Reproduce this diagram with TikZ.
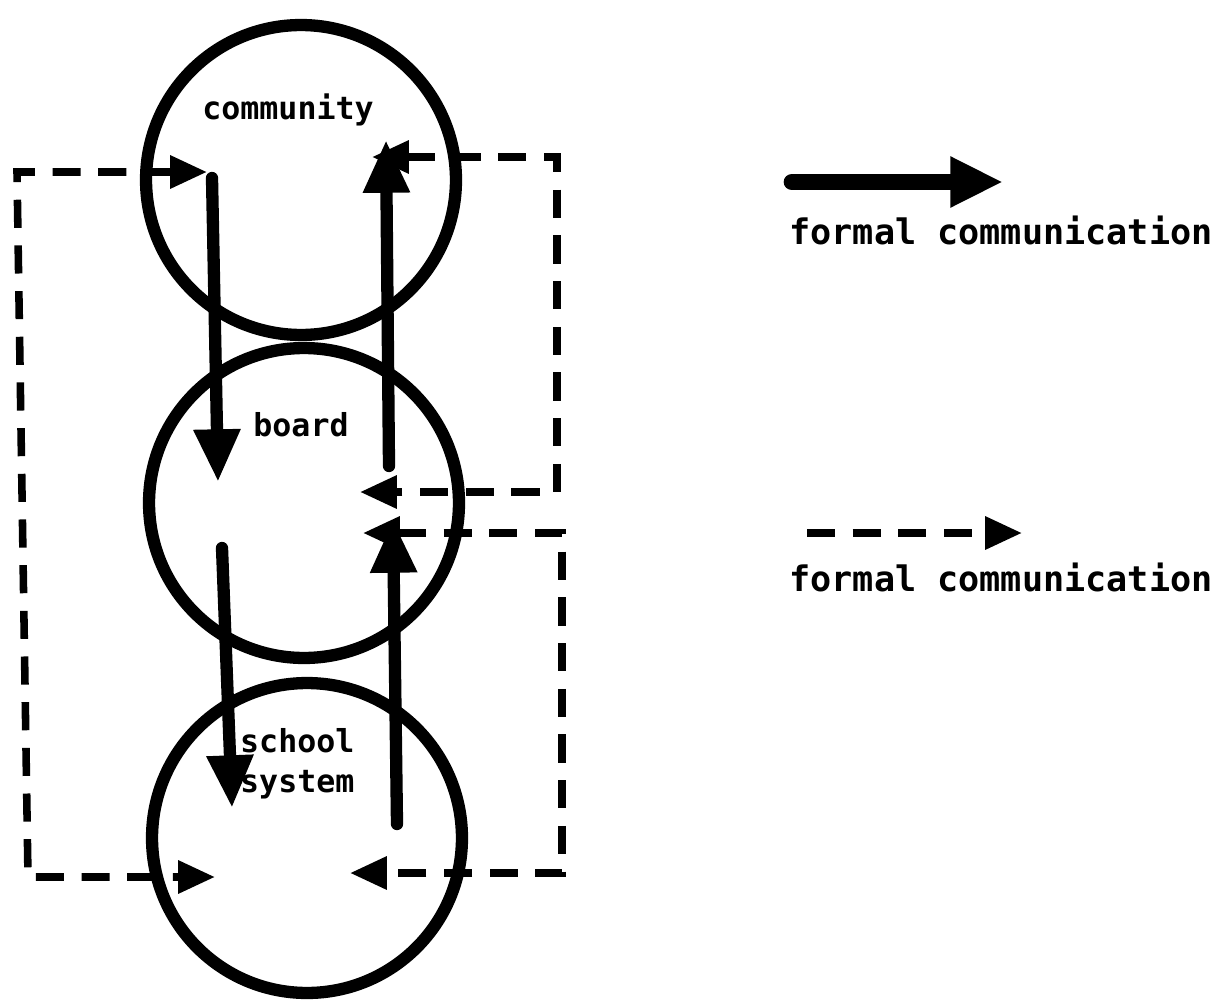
\documentclass[tikz,border=0pt]{standalone}
\usepackage{fontspec}
\setmonofont{DejaVu Sans Mono}
\usetikzlibrary{arrows.meta, positioning}
\tikzset{
x=0.02cm, y=-0.02cm, % one unit is one pixel of the scan, y runs down
sphere/.style={circle, draw, line width=7pt, minimum size=6.2cm, inner sep=0pt}, % the three groups
formal/.style={line width=7pt, line cap=round, -{Triangle[length=30pt, width=25pt]}}, % solid arrows
dtip/.tip={Triangle[length=21pt, width=18pt]}, % head of a dashed arrow
informal/.style={line width=4.3pt, dash pattern=on 16pt off 10pt, dtip-dtip}, % dashed loops
tag/.style={font=\fontsize{18}{23}\selectfont\ttfamily\bfseries}, % texts in the circles
legend/.style={font=\fontsize{20}{24}\selectfont\ttfamily\bfseries}, % texts of the legend
}
\begin{document}
\begin{tikzpicture}
        \useasboundingbox (0,0) rectangle (1217,1004);

        \node[sphere] (comm) at (301,180) {};
        \node[sphere] (board) at (304,503) {};
        \node[sphere] (school) at (307,838) {};

        \node[tag] (commtxt) at (288,110) {community};
        \node[tag] (boardtxt) at (301,425) {board};
        \node[tag, align=left, anchor=west] (schooltxt) at (234,764) {school\\system};

        % ends of the solid arrows
        \coordinate (c1) at (212,178);
        \coordinate (b1) at (218,482);
        \coordinate (b2) at (389,466);
        \coordinate (c2) at (386,140);
        \coordinate (b3) at (222,548);
        \coordinate (s1) at (232,808);
        \coordinate (s2) at (397,824);
        \coordinate (b4) at (393,520);

        \draw[formal] (c1) -- (b1);
        \draw[formal] (b2) -- (c2);
        \draw[formal] (b3) -- (s1);
        \draw[formal] (s2) -- (b4);

        % dashed loops
        \coordinate (c3) at (207,172);
        \coordinate (l1) at (17,172);
        \coordinate (l2) at (28,877);
        \coordinate (s3) at (215,877);
        \draw[informal] (c3) -- (l1) -- (l2) -- (s3);

        \coordinate (c4) at (372,157);
        \coordinate (r1) at (557,157);
        \coordinate (r2) at (557,492);
        \coordinate (b5) at (360,492);
        \draw[informal] (c4) -- (r1) -- (r2) -- (b5);

        \coordinate (b6) at (363,533);
        \coordinate (r3) at (562,533);
        \coordinate (r4) at (562,873);
        \coordinate (s4) at (350,873);
        \draw[informal] (b6) -- (r3) -- (r4) -- (s4);

        % legend
        \coordinate (ls) at (792,182);
        \coordinate (le) at (1003,182);
        \draw[formal, line width=9.5pt, -{Triangle[length=30pt, width=27pt]}] (ls) -- (le);
        \node[legend] (formaltxt) at (1001,230) {formal communication};

        \coordinate (ds) at (807,533);
        \coordinate (de) at (1022,533);
        \draw[informal, -dtip] (ds) -- (de);
        \node[legend] (informaltxt) at (1001,577) {formal communication};
\end{tikzpicture}
\end{document}
